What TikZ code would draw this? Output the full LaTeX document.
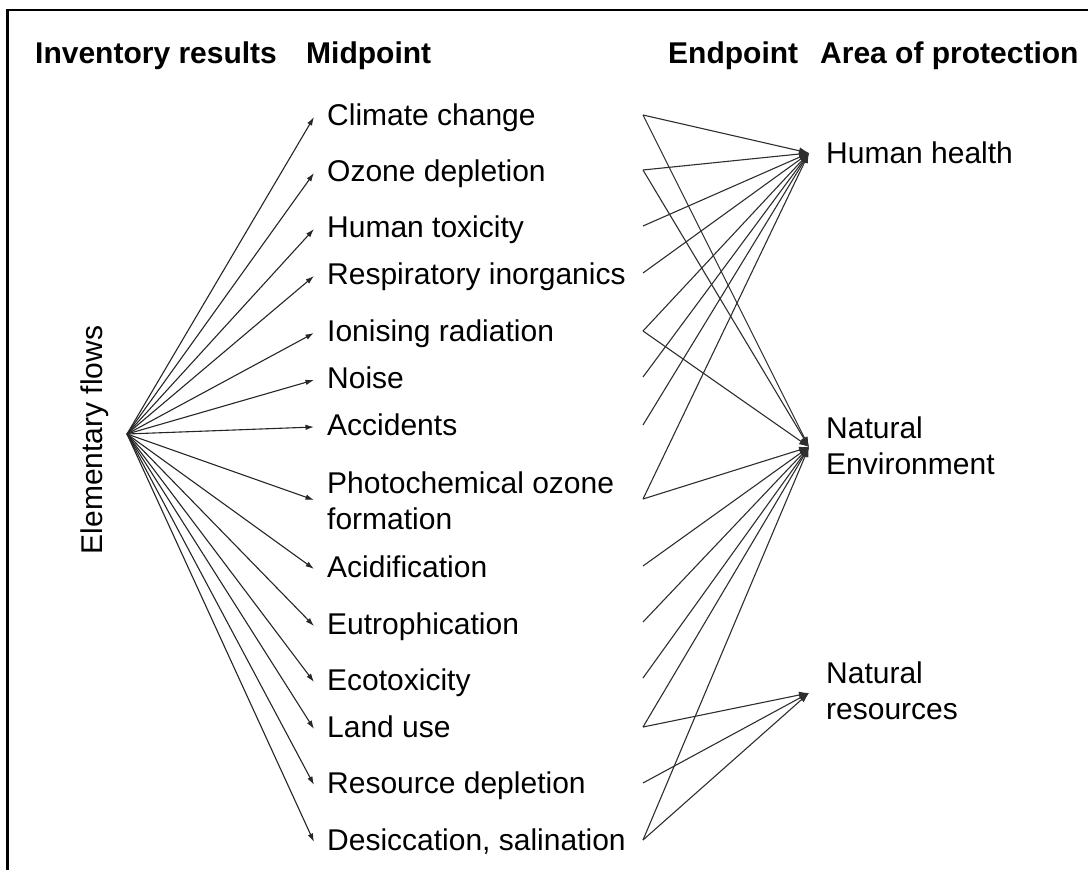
\documentclass[tikz,border=0pt]{standalone}
\usepackage{fontspec}
\setmainfont{Liberation Sans}
\usetikzlibrary{arrows.meta}
\begin{document}
\begin{tikzpicture}[x=1pt,y=-1pt,
  lbl/.style={anchor=west, inner sep=0pt, font=\fontsize{30}{36}\selectfont,
              text height=21pt, text depth=0pt, align=left},
  hdr/.style={lbl, font=\fontsize{30}{36}\selectfont\bfseries},
  fan/.style={draw=black!85, line width=1.1pt, -{Latex[length=8.5pt,width=5.5pt]}},
  link/.style={draw=black!82, line width=1.1pt, -{Latex[length=10pt,width=7pt]}},
]
\useasboundingbox (0,0) rectangle (1088,870);
% frame (left and top edges)
\draw[line width=2.2pt] (7.5,870) -- (7.5,10) -- (1088,10);

% column headers
\node[hdr] (h1) at (35,53)  {Inventory results};
\node[hdr] (h2) at (306,53) {Midpoint};
\node[hdr] (h3) at (668,53) {Endpoint};
\node[hdr] (h4) at (820,53) {Area of protection};

% inventory
\node[inner sep=0pt, rotate=90, font=\fontsize{30}{36}\selectfont] (efl) at (95,440) {Elementary flows};
\coordinate (src) at (127,434);

% midpoint categories
\node[lbl] (cc)  at (327,115) {Climate change};
\node[lbl] (od)  at (327,171) {Ozone depletion};
\node[lbl] (ht)  at (327,227) {Human toxicity};
\node[lbl] (ri)  at (327,274) {Respiratory inorganics};
\node[lbl] (ir)  at (327,331) {Ionising radiation};
\node[lbl] (no)  at (327,378) {Noise};
\node[lbl] (ac)  at (327,425) {Accidents};
\node[lbl] (po)  at (327,519) {Photochemical ozone\\formation};
\node[lbl] (ad)  at (327,567) {Acidification};
\node[lbl] (eu)  at (327,624) {Eutrophication};
\node[lbl] (ec)  at (327,680) {Ecotoxicity};
\node[lbl] (lu)  at (327,727) {Land use};
\node[lbl] (rd)  at (327,783) {Resource depletion};
\node[lbl] (ds)  at (327,840) {Desiccation, salination};

% areas of protection
\node[lbl] (hh) at (826,153) {Human health};
\node[lbl] (ne) at (826,464) {Natural\\Environment};
\node[lbl] (nr) at (826,709) {Natural\\resources};
\coordinate (hhp) at (809,153);
\coordinate (nep) at (809,447);
\coordinate (nrp) at (809,693);

% fan from elementary flows to midpoints
\foreach \m in {cc,od,ht,ri,ir,no,ac,ad,eu,ec,lu,rd,ds}
  \draw[fan] (src) -- ([xshift=-13pt,yshift=-2pt]\m.west);
\draw[fan] (src) -- ([xshift=-13pt,yshift=19pt]po.west);

% start points of endpoint links
\coordinate (cc-r) at (643,115);
\coordinate (od-r) at (643,170);
\coordinate (ht-r) at (643,226);
\coordinate (ri-r) at (643,273);
\coordinate (ir-r) at (643,331);
\coordinate (no-r) at (643,377);
\coordinate (ac-r) at (643,425);
\coordinate (po-r) at (643,499);
\coordinate (ad-r) at (643,566);
\coordinate (eu-r) at (643,622);
\coordinate (ec-r) at (643,678);
\coordinate (lu-r) at (643,727);
\coordinate (rd-r) at (643,783);
\coordinate (ds-r) at (643,840);

% links to human health
\foreach \m in {cc,od,ht,ri,ir,no,ac,po}
  \draw[link] (\m-r) -- (hhp);
% links to natural environment
\foreach \m in {cc,od,ir,po,ad,eu,ec,lu,ds}
  \draw[link] (\m-r) -- (nep);
% links to natural resources
\foreach \m in {lu,rd,ds}
  \draw[link] (\m-r) -- (nrp);
\end{tikzpicture}
\end{document}
